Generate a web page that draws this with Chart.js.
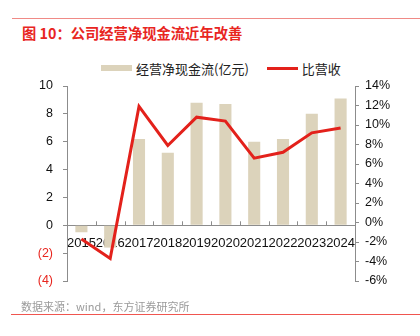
<!DOCTYPE html>
<html>
<head>
<meta charset="utf-8">
<script src="https://cdn.jsdelivr.net/npm/chart.js@4"></script>
<style>
  body { margin: 0; width: 420px; height: 336px; background: #fff; position: relative; overflow: hidden;
         font-family: "Liberation Sans", "Noto Sans CJK SC", sans-serif; }
  #chartWrap { position: absolute; left: 0; top: 0; width: 420px; height: 336px; }
  .topRule { position: absolute; left: 12px; top: 18px; width: 408px; height: 1px; background: #f08a86; }
  .title { position: absolute; left: 22px; top: 22px; font-size: 14.3px; font-weight: bold; color: #e8261f;
           font-family: "Noto Sans CJK SC", sans-serif; white-space: nowrap; }
  .legend { position: absolute; top: 57px; left: 101px; font-size: 13px; color: #222; white-space: nowrap;
            font-family: "Noto Sans CJK SC", sans-serif; }
  .legend span { display: inline-block; vertical-align: middle; }
  .sw-bar { width: 31px; height: 6px; background: #dcd3bb; margin-right: 4px; }
  .sw-line { width: 31px; height: 3px; background: #e3211b; margin-left: 18px; margin-right: 4px; }
  .source { position: absolute; left: 21px; top: 298px; font-size: 11px; color: #9a9a9a; white-space: nowrap;
            font-family: "Noto Sans CJK SC", sans-serif; }
  .bottomRule { position: absolute; left: 11px; top: 314px; width: 409px; height: 1px; background: #f0554f; }
</style>
</head>
<body>
<div class="topRule"></div>
<div class="title">图 10：公司经营净现金流近年改善</div>
<div class="legend"><span class="sw-bar"></span><span>经营净现金流(亿元)</span><span class="sw-line"></span><span>比营收</span></div>
<div id="chartWrap"><canvas id="cashChart" width="420" height="336"></canvas></div>
<div class="source">数据来源：wind，东方证券研究所</div>
<div class="bottomRule"></div>

<script>
// ── Data ─────────────────────────────────────────────────────────────────────
const years = ['2015', '2016', '2017', '2018', '2019', '2020', '2021', '2022', '2023', '2024'];
const cashFlow = [-0.5, -1.6, 6.2, 5.2, 8.8, 8.7, 6.0, 6.2, 8.0, 9.1];       // 亿元
const cashToRevenue = [-1.7, -3.7, 11.9, 7.9, 10.8, 10.4, 6.6, 7.2, 9.2, 9.7]; // %
const leftTicks = { min: -4, max: 10, step: 2 };
const rightTicks = { min: -6, max: 14, step: 2 };

const RED = '#e3211b';
const AXIS = '#8c8c8c';

// small upward tick marks on the zero line, at category boundaries
const zeroTicks = {
    id: 'zeroTicks',
    afterDraw(chart) {
        const x = chart.scales.x;
        const y0 = chart.scales.y.getPixelForValue(0);
        const ctx = chart.ctx;
        ctx.save();
        ctx.strokeStyle = AXIS;
        ctx.lineWidth = 1;
        for (let i = 0; i <= years.length; i++) {
            const px = Math.round(x.getPixelForValue(i - 0.5)) + 0.5;
            ctx.beginPath();
            ctx.moveTo(px, y0);
            ctx.lineTo(px, y0 - 4);
            ctx.stroke();
        }
        ctx.restore();
    }
};

new Chart(document.getElementById('cashChart').getContext('2d'), {
    data: {
        labels: years,
        datasets: [
            {
                type: 'line',
                label: '比营收',
                data: cashToRevenue,
                yAxisID: 'y1',
                borderColor: RED,
                borderWidth: 3,
                pointRadius: 0,
                tension: 0,
                order: 0
            },
            {
                type: 'bar',
                label: '经营净现金流(亿元)',
                data: cashFlow,
                yAxisID: 'y',
                backgroundColor: '#dcd3bb',
                barPercentage: 0.42,
                categoryPercentage: 1,
                order: 1
            }
        ]
    },
    options: {
        responsive: false,
        animation: false,
        layout: { padding: { top: 86, bottom: 55, left: 0, right: 0 } },
        plugins: { legend: { display: false }, tooltip: { enabled: false } },
        scales: {
            x: {
                position: { y: 0 },
                offset: true,
                grid: { display: false },
                border: { color: AXIS },
                ticks: { color: '#111', padding: 2, maxRotation: 0, autoSkip: false,
                         font: { family: 'Liberation Sans', size: 13 } }
            },
            y: {
                position: 'left',
                min: leftTicks.min, max: leftTicks.max,
                afterFit: s => { s.width = 67; },
                grid: { drawOnChartArea: false, tickLength: 4, color: AXIS },
                border: { color: AXIS },
                ticks: {
                    stepSize: leftTicks.step,
                    padding: 10,
                    font: { family: 'Liberation Sans', size: 12.5 },
                    color: c => c.tick.value < 0 ? '#e8261f' : '#111',
                    callback: v => v < 0 ? '(' + (-v) + ')' : v
                }
            },
            y1: {
                position: 'right',
                min: rightTicks.min, max: rightTicks.max,
                afterFit: s => { s.width = 65; },
                grid: { drawOnChartArea: false, tickLength: 4, color: AXIS },
                border: { color: AXIS },
                ticks: {
                    stepSize: rightTicks.step,
                    padding: 6,
                    font: { family: 'Liberation Sans', size: 12.5 },
                    color: '#111',
                    callback: v => v + '%'
                }
            }
        }
    },
    plugins: [zeroTicks]
});
</script>
</body>
</html>
